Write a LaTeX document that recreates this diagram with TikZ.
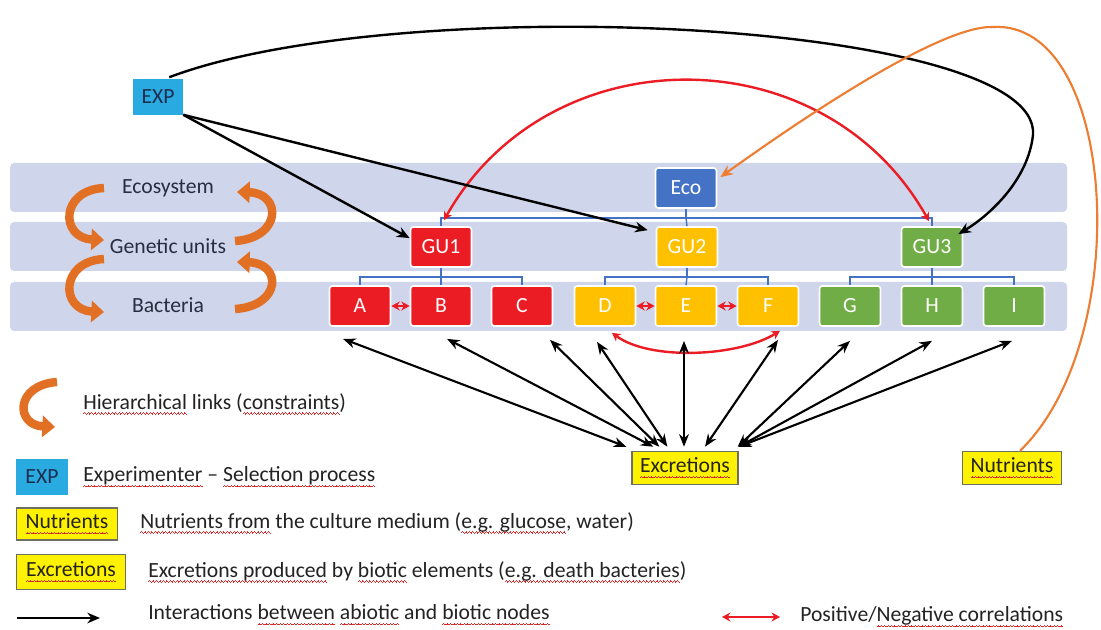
\documentclass[tikz,border=0pt]{standalone}
\usepackage{fontspec}
\setmainfont{Carlito}
\usetikzlibrary{arrows.meta,calc}
\definecolor{bandc}{RGB}{207,213,234}
\definecolor{cred}{RGB}{236,28,36}
\definecolor{cgold}{RGB}{255,192,0}
\definecolor{cgreen}{RGB}{112,173,71}
\definecolor{cblue}{RGB}{68,114,196}
\definecolor{cexp}{RGB}{41,171,226}
\definecolor{corange}{RGB}{237,125,49}
\definecolor{harrow}{RGB}{226,112,36}
\definecolor{txt}{RGB}{35,35,35}
\definecolor{lbl}{RGB}{40,46,66}
\definecolor{cyellow}{RGB}{255,242,0}
\definecolor{squig}{RGB}{220,40,40}
\newcommand\wvunit{\hbox{\vrule width 0.6pt height -2.6pt depth 3.2pt\vrule width 0.6pt height -2.2pt depth 2.8pt\vrule width 0.6pt height -2.6pt depth 3.2pt\vrule width 0.6pt height -3.0pt depth 3.6pt}}
\newcommand\sq[1]{\setbox0=\hbox{#1}\rlap{\color{squig}\hbox to \wd0{\xleaders\wvunit\hfill}}\box0\relax}
\begin{document}
\begin{tikzpicture}[x=0.025cm,y=-0.025cm,
  font=\fontsize{15.4}{18}\selectfont,
  bandbox/.style={fill=bandc, rounded corners=3pt},
  box/.style={draw=white, line width=1.2pt, rounded corners=2pt, minimum width=1.525cm, minimum height=1cm, text=white, inner sep=0pt},
  expbox/.style={fill=cexp, minimum width=1.25cm, minimum height=0.875cm, text={rgb,255:red,30;green,45;blue,80}, inner sep=0pt},
  ybox/.style={fill=cyellow, draw={rgb,255:red,110;green,110;blue,100}, line width=0.9pt, minimum width=2.65cm, minimum height=0.83cm, text=txt, inner sep=0pt},
  tree/.style={draw=cblue, line width=1pt},
  blk/.style={draw=black, line width=1.5pt, {Stealth[length=9pt,width=7pt]}-{Stealth[length=9pt,width=7pt]}},
  blkone/.style={draw=black, line width=1.7pt, -{Stealth[length=9pt,width=7.5pt]}},
  redarr/.style={draw=cred, line width=1.7pt, {Stealth[length=6pt,width=6.5pt]}-{Stealth[length=6pt,width=6.5pt]}},
  org/.style={draw=corange, line width=1.5pt, -{Stealth[length=9pt,width=7.5pt]}},
  harr/.style={draw=harrow, line width=6pt, -{Triangle[length=9pt,width=15pt]}},
  lbltxt/.style={text=lbl},
  ltxt/.style={anchor=west, inner sep=0pt, text=txt}]
\useasboundingbox (0,0) rectangle (1101,630);
\fill[white] (0,0) rectangle (1101,630);
% bands
\fill[bandbox] (10,163) rectangle (1067,212);
\fill[bandbox] (10,222) rectangle (1067,271);
\fill[bandbox] (10,282) rectangle (1067,331);
\node[lbltxt] (lEco) at (168,188) {Ecosystem};
\node[lbltxt] (lGU) at (168,246) {Genetic units};
\node[lbltxt] (lBac) at (168,305) {Bacteria};
% hierarchical arrows
\draw[harr] (104,188) .. controls (60,190) and (60,238) .. (104,240);
\draw[harr] (104,259) .. controls (60,261) and (60,310) .. (104,312);
\draw[harr] (235,241) .. controls (282,238) and (282,193) .. (237,192);
\draw[harr] (235,309) .. controls (282,306) and (282,263) .. (237,262);
% nodes
\node[box, fill=cblue] (Eco) at (686,188) {Eco};
\node[box, fill=cred] (GU1) at (441,247) {GU1};
\node[box, fill=cgold] (GU2) at (687,247) {GU2};
\node[box, fill=cgreen] (GU3) at (932,247) {GU3};
\node[box, fill=cred] (A) at (360,306) {A};
\node[box, fill=cred] (B) at (441,306) {B};
\node[box, fill=cred] (C) at (522,306) {C};
\node[box, fill=cgold] (D) at (605,306) {D};
\node[box, fill=cgold] (E) at (686,306) {E};
\node[box, fill=cgold] (F) at (768,306) {F};
\node[box, fill=cgreen] (G) at (850,306) {G};
\node[box, fill=cgreen] (H) at (932,306) {H};
\node[box, fill=cgreen] (I) at (1014,306) {I};
\node[expbox] (EXP) at (158,97) {EXP};
\node[ybox] (Exc) at (685,468) {\sq{Excretions}};
\node[ybox, minimum width=2.475cm] (Nut) at (1012,468) {\sq{Nutrients}};
% tree
\draw[tree] (Eco.south) -- ++(0,9) coordinate (t0);
\draw[tree] (GU1.north) |- (t0) -| (GU3.north);
\draw[tree] (t0) -- (GU2.north);
\draw[tree] (GU1.south) -- ++(0,9) coordinate (t1);
\draw[tree] (A.north) |- (t1) -| (C.north);
\draw[tree] (t1) -- (B.north);
\draw[tree] (GU2.south) -- ++(0,9) coordinate (t2);
\draw[tree] (D.north) |- (t2) -| (F.north);
\draw[tree] (t2) -- (E.north);
\draw[tree] (GU3.south) -- ++(0,9) coordinate (t3);
\draw[tree] (G.north) |- (t3) -| (I.north);
\draw[tree] (t3) -- (H.north);
% red correlations
\draw[redarr] (A.east) -- (B.west);
\draw[redarr] (D.east) -- (E.west);
\draw[redarr] (E.east) -- (F.west);
\draw[redarr] ($(D.south)+(7,6)$) .. controls ($(D.south)+(45,34)$) and ($(F.south)+(-30,30)$) .. ($(F.south)+(12,4)$);
\draw[redarr] ($(GU1.north)+(3,-6)$) .. controls ($(GU1.north)+(108,-192)$) and ($(GU3.north)+(-108,-192)$) .. ($(GU3.north)+(-3,-5)$);
% excretions interactions
\draw[blk] ($(A.south)+(-17,12)$) -- ($(Exc.north west)+(-5,-4)$);
\draw[blk] ($(B.south)+(6,12)$) -- ($(Exc.north west)+(22,-4)$);
\draw[blk] ($(C.south)+(28,13)$) -- ($(Exc.north west)+(28,-4)$);
\draw[blk] ($(D.south)+(-8,15)$) -- ($(Exc.north west)+(36,-4)$);
\draw[blk] ($(E.south)+(-2,14)$) -- ($(Exc.north)+(-1,-4)$);
\draw[blk] ($(F.south)+(10,13)$) -- ($(Exc.north)+(20,-4)$);
\draw[blk] ($(G.south)+(0,14)$) -- ($(Exc.north east)+(-1,-4)$);
\draw[blk] ($(H.south)+(0,14)$) -- ($(Exc.north east)+(0,-4)$);
\draw[blk] ($(I.south)+(-2,14)$) -- ($(Exc.north east)+(0,-4)$);
% experimenter
\coordinate (bendR) at (1033,135);
\draw[blkone] ($(EXP.north east)+(-14,-2)$) .. controls (400,-10) and (1042,20) .. (bendR) .. controls (1028,180) and (990,215) .. ($(GU3.north east)+(-5,8)$);
\draw[blkone] (EXP.south east) -- ($(GU1.north west)+(0,12)$);
\draw[blkone] (EXP.south east) -- ($(GU2.north west)+(-8,4)$);
% nutrients
\coordinate (topO) at (993,27);
\draw[org] ($(Nut.north)+(8,0)$) .. controls (1135,340) and (1118,20) .. (topO) .. controls (940,25) and (800,120) .. ($(Eco.north east)+(3,10)$);
% legend
\draw[harr] (57,382) .. controls (15,385) and (15,425) .. (55,427);
\node[ltxt] (L1) at (83,404) {\sq{Hierarchical} links (\sq{constraints})};
\node[expbox, minimum width=1.275cm] (LEXP) at (42,477) {EXP};
\node[ltxt] (L2) at (83,477) {\sq{Experimenter} – \sq{Selection process}};
\node[ybox, minimum width=2.525cm, minimum height=0.8cm] (LNut) at (67,524) {\sq{Nutrients}};
\node[ltxt] (L3) at (140,523) {\sq{Nutrients from} the culture medium (\sq{e.g. glucose}, water)};
\node[ybox, minimum width=2.725cm, minimum height=0.875cm] (LExc) at (71,572) {\sq{Excretions}};
\node[ltxt] (L4) at (148,572) {\sq{Excretions produced} by \sq{biotic} elements (\sq{e.g. death bacteries})};
\coordinate (la1) at (17,618);
\coordinate (la2) at (100,618);
\draw[blkone] (la1) -- (la2);
\node[ltxt] (L5) at (148,615) {Interactions \sq{between} \sq{abiotic} and \sq{biotic nodes}};
\coordinate (lr1) at (722,617);
\coordinate (lr2) at (780,617);
\draw[redarr] (lr1) -- (lr2);
\node[ltxt] (L6) at (800,617) {Positive/\sq{Negative correlations}};
\end{tikzpicture}
\end{document}
